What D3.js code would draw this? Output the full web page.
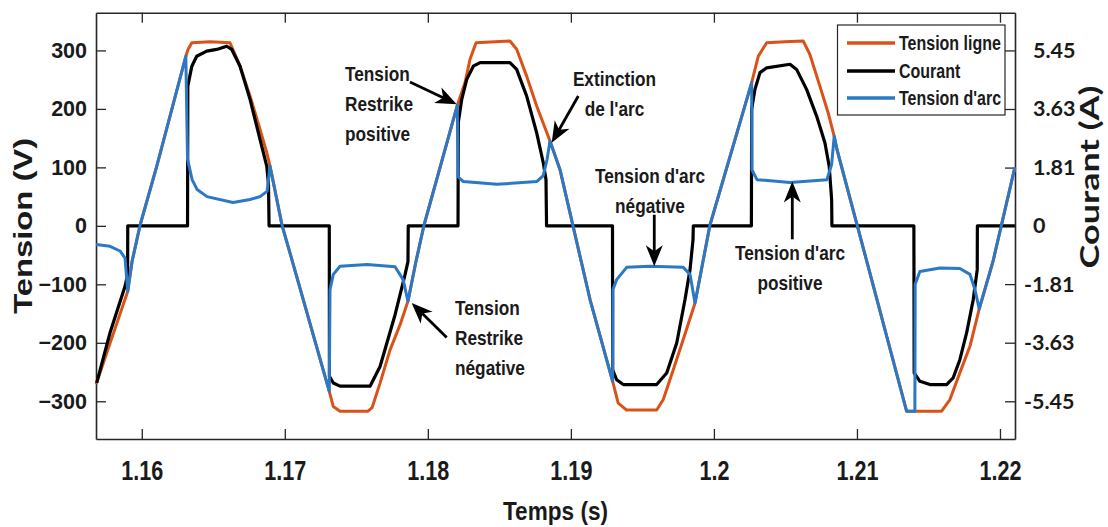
<!DOCTYPE html>
<html><head><meta charset="utf-8">
<script src="https://cdn.jsdelivr.net/npm/d3@7"></script>
<style>
body{margin:0;background:#fff}
svg text{font-family:"Liberation Sans",Arial,sans-serif;font-weight:bold;fill:#1a1a1a}
</style>
</head><body><svg id="c" width="1108" height="527"></svg>
<script>
// ---------- data ----------
const xTicks=[1.16,1.17,1.18,1.19,1.2,1.21,1.22];
const xTickLabels=["1.16","1.17","1.18","1.19","1.2","1.21","1.22"];
const yTicks=[-300,-200,-100,0,100,200,300];
const yRTicks=[-5.45,-3.63,-1.81,0,1.81,3.63,5.45];
const yRTickLabels=["-5.45","-3.63","-1.81","0","1.81","3.63","5.45"];
const seriesNames=["Tension ligne","Courant","Tension d'arc"];
const seriesColors=["#d95319","#000000","#2b78c5"];

// Tension ligne (V): [t (s), V]
const tensionLigne=[[1.15681,-271],[1.15778,-201],[1.15902,-112],[1.15932,-61],[1.15988,1],[1.16105,102],[1.16308,290],
[1.16324,302],[1.16350,313],[1.16477,315],[1.16617,313],[1.16687,273],[1.16757,222],[1.16827,165],[1.16874,125],[1.16897,102],
[1.16981,0],[1.17037,-47],[1.17311,-283],[1.17339,-309],[1.17386,-317],[1.17582,-317],[1.17610,-311],[1.17666,-269],[1.17736,-212],[1.17806,-169],[1.17861,-129],
[1.17917,-61],[1.17973,1],[1.18206,206],[1.18260,245],[1.18295,285],[1.18337,313],[1.18470,315],[1.18574,316],[1.18621,302],[1.18691,256],[1.18761,205],[1.18854,145],
[1.18924,96],[1.19134,-126],[1.19292,-266],[1.19331,-303],[1.19390,-315],[1.19600,-315],[1.19646,-297],[1.19716,-246],[1.19786,-194],[1.19868,-132],
[1.19972,1],[1.20264,245],[1.20310,290],[1.20369,313],[1.20497,315],[1.20625,316],[1.20671,293],[1.20741,239],[1.20799,193],[1.20841,153],
[1.20860,131],[1.21140,-126],[1.21347,-317],[1.21592,-317],[1.21650,-297],[1.21720,-251],[1.21790,-206],[1.21855,-142],[1.21951,-61],[1.22104,100]];

// Courant (A): [t (s), A]
const courant=[[1.15685,-4.88],[1.15778,-3.32],[1.15883,-1.88],[1.15901,-1.51],[1.15902,0],[1.16320,0],[1.16322,4.34],[1.16350,4.96],[1.16384,5.27],
[1.16454,5.43],[1.16524,5.48],[1.16594,5.58],[1.16629,5.48],[1.16687,4.96],[1.16757,3.93],[1.16827,2.68],[1.16874,1.85],[1.16886,1.28],[1.16890,0],
[1.17311,0],[1.17312,-4.67],[1.17339,-4.88],[1.17386,-4.98],[1.17596,-4.98],[1.17666,-4.37],[1.17771,-2.76],[1.17841,-1.51],[1.17861,-1.11],[1.17863,0],
[1.18211,0],[1.18213,3.21],[1.18237,3.93],[1.18272,4.55],[1.18318,4.96],[1.18365,5.07],[1.18574,5.07],[1.18621,4.86],[1.18691,4.03],[1.18761,2.89],[1.18807,1.96],[1.18826,1.44],[1.18830,0],
[1.19291,0],[1.19292,-4.47],[1.19320,-4.78],[1.19366,-4.93],[1.19600,-4.93],[1.19670,-4.57],[1.19740,-3.64],[1.19798,-2.29],[1.19833,-1.36],[1.19854,-0.43],[1.19856,0],
[1.20262,0],[1.20264,3.62],[1.20287,4.24],[1.20322,4.76],[1.20369,4.91],[1.20532,5.02],[1.20578,4.86],[1.20648,4.24],[1.20718,3.41],[1.20776,2.58],[1.20806,1.85],[1.20823,0.82],[1.20825,0],
[1.21398,0],[1.21400,-4.57],[1.21440,-4.83],[1.21510,-4.93],[1.21627,-4.93],[1.21673,-4.72],[1.21720,-4.15],[1.21767,-3.32],[1.21813,-2.29],[1.21841,-1.36],[1.21842,0],[1.22104,0]];

// Tension d'arc (V): [t (s), V]
const tensionArc=[[1.15681,-32],[1.15778,-35],[1.15848,-43],[1.15883,-55],[1.15902,-112],[1.15932,-61],[1.15988,1],[1.16105,102],[1.16308,290],
[1.16320,114],[1.16352,79],[1.16387,62],[1.16456,50],[1.16638,40],[1.16757,45],[1.16827,50],[1.16876,59],[1.16897,102],
[1.16981,1],[1.17037,-47],[1.17311,-283],[1.17316,-109],[1.17339,-83],[1.17386,-69],[1.17575,-66],[1.17771,-70],[1.17827,-92],[1.17861,-129],
[1.17917,-61],[1.17973,1],[1.18206,206],[1.18211,84],[1.18246,76],[1.18484,71],[1.18763,76],[1.18807,86],[1.18833,113],[1.18854,145],
[1.18924,96],[1.19134,-126],[1.19292,-266],[1.19294,-109],[1.19320,-92],[1.19390,-71],[1.19553,-69],[1.19786,-71],[1.19833,-83],[1.19868,-132],
[1.19972,1],[1.20264,245],[1.20266,96],[1.20301,79],[1.20532,74],[1.20790,79],[1.20823,105],[1.20841,153],
[1.20860,131],[1.21140,-126],[1.21347,-317],[1.21405,-317],[1.21407,-100],[1.21440,-78],[1.21580,-72],[1.21720,-73],[1.21790,-83],[1.21825,-109],[1.21855,-142],
[1.21951,-61],[1.22104,100]];

// annotations: text lines, text anchor position (t,V), alignment, arrow from/to (t,V)
const annotTexts=[["Tension","Restrike","positive"],["Extinction","de l'arc"],["Tension d'arc","négative"],["Tension d'arc","positive"],["Tension","Restrike","négative"]];
const annotPos=[[1.17421,247],[1.19305,239],[1.19553,74],[1.20532,-58],[1.18190,-152]];
const annotAlign=["start","middle","middle","middle","start"];
const annotArrowFrom=[[1.17875,246],[1.19052,222],[1.19583,19],[1.20548,-23],[1.18132,-191]];
const annotArrowTo=[[1.18202,208],[1.18866,142],[1.19583,-69],[1.20548,76],[1.17887,-132]];

// ---------- chart ----------
const svg=d3.select("#c");
const L=96,R=1015,T=12.7,B=439;
const x=d3.scaleLinear().domain([1.1568,1.22105]).range([L,R]);
const y=d3.scaleLinear().domain([-364.5,364.5]).range([B,T]);
const yR=d3.scaleLinear().domain([-6.6215,6.6215]).range([B,T]);

function narrow(sel,f){sel.each(function(){const n=this;const w=n.getComputedTextLength();n.setAttribute("textLength",w*f);n.setAttribute("lengthAdjust","spacingAndGlyphs");});}
function fitLen(sel,len){sel.attr("textLength",len).attr("lengthAdjust","spacingAndGlyphs");}

const axCol="#262626";
// axes
const gx=svg.append("g").attr("transform",`translate(0,${B})`)
 .call(d3.axisBottom(x).tickValues(xTicks).tickFormat((d,i)=>xTickLabels[i]).tickSizeInner(-10).tickSizeOuter(0).tickPadding(22));
const gxt=svg.append("g").attr("transform",`translate(0,${T})`)
 .call(d3.axisTop(x).tickValues(xTicks).tickFormat("").tickSizeInner(-10).tickSizeOuter(0));
const gy=svg.append("g").attr("transform",`translate(${L},0)`)
 .call(d3.axisLeft(y).tickValues(yTicks).tickSizeInner(-10).tickSizeOuter(0).tickPadding(9));
const gyr=svg.append("g").attr("transform",`translate(${R},0)`)
 .call(d3.axisRight(yR).tickValues(yRTicks).tickFormat((d,i)=>yRTickLabels[i]).tickSizeInner(-10).tickSizeOuter(0).tickPadding(18));
[gx,gxt,gy,gyr].forEach(g=>{g.attr("font-size",null).attr("font-family",null);
 g.selectAll("path.domain").attr("stroke",axCol).attr("stroke-width",1.6);
 g.selectAll(".tick line").attr("stroke",axCol).attr("stroke-width",1.3);
 g.selectAll("text").style("fill","#1a1a1a");});
gy.selectAll("text").style("font-size","21.5px");
gx.selectAll("text").style("font-size","27px");
narrow(gx.selectAll("text"),0.8);
gyr.selectAll("text").style("font-family","Lato,'Open Sans',sans-serif").style("font-size","21.5px")
  .attr("dx",(d)=>d<0?-9:0);

// series
const line=d3.line().x(d=>x(d[0])).y(d=>y(d[1]));
const lineR=d3.line().x(d=>x(d[0])).y(d=>yR(d[1]));
const plot=svg.append("g");
plot.append("path").datum(tensionLigne).attr("d",line).attr("fill","none").attr("stroke",seriesColors[0]).attr("stroke-width",3).attr("stroke-linejoin","round");
plot.append("path").datum(courant).attr("d",lineR).attr("fill","none").attr("stroke",seriesColors[1]).attr("stroke-width",3.2).attr("stroke-linejoin","round");
plot.append("path").datum(tensionArc).attr("d",line).attr("fill","none").attr("stroke",seriesColors[2]).attr("stroke-width",3).attr("stroke-linejoin","round");

// axis titles
fitLen(svg.append("text").attr("x",(L+R)/2).attr("y",520).attr("text-anchor","middle").style("font-size","25px").text("Temps (s)"),105);
fitLen(svg.append("text").attr("transform",`translate(31.5,${(T+B)/2}) rotate(-90)`).attr("text-anchor","middle").style("font-size","25.5px").text("Tension (V)"),176);
fitLen(svg.append("text").attr("transform",`translate(1099,177) rotate(-90)`).attr("text-anchor","middle")
  .style("font-family","Lato,'Open Sans',sans-serif").style("font-size","26px").text("Courant (A)"),183);

// annotations
const ag=svg.append("g");
annotTexts.forEach((lines,i)=>{
  const t=ag.append("text").attr("x",x(annotPos[i][0])).attr("y",y(annotPos[i][1])).attr("text-anchor",annotAlign[i]).style("font-size","21px");
  lines.forEach((s,j)=>t.append("tspan").attr("x",x(annotPos[i][0])).attr("dy",j?30:0).text(s));
  narrow(t.selectAll("tspan"),0.82);
  const x1=x(annotArrowFrom[i][0]),y1=y(annotArrowFrom[i][1]),x2=x(annotArrowTo[i][0]),y2=y(annotArrowTo[i][1]);
  const a=Math.atan2(y2-y1,x2-x1),ux=Math.cos(a),uy=Math.sin(a),nx=-uy,ny=ux;
  const HL=21,HW=8.5,NT=6;
  ag.append("line").attr("x1",x1).attr("y1",y1).attr("x2",x2-ux*(HL-NT)).attr("y2",y2-uy*(HL-NT)).attr("stroke","#000").attr("stroke-width",2.8);
  ag.append("path").attr("d",`M${x2},${y2}L${x2-ux*HL+nx*HW},${y2-uy*HL+ny*HW}L${x2-ux*(HL-NT)},${y2-uy*(HL-NT)}L${x2-ux*HL-nx*HW},${y2-uy*HL-ny*HW}Z`).attr("fill","#000");
});

// legend
const lg=svg.append("g");
lg.append("rect").attr("x",837.5).attr("y",25).attr("width",167.5).attr("height",90).attr("fill","#fff").attr("stroke",axCol).attr("stroke-width",1.2);
const legY=[43,71,98];
seriesNames.forEach((n,i)=>{
  lg.append("line").attr("x1",847).attr("x2",895).attr("y1",legY[i]).attr("y2",legY[i]).attr("stroke",seriesColors[i]).attr("stroke-width",3.5);
  const t=lg.append("text").attr("x",899).attr("y",legY[i]+7).style("font-size","19.5px").text(n);
  narrow(t,0.82);
});
</script></body></html>
